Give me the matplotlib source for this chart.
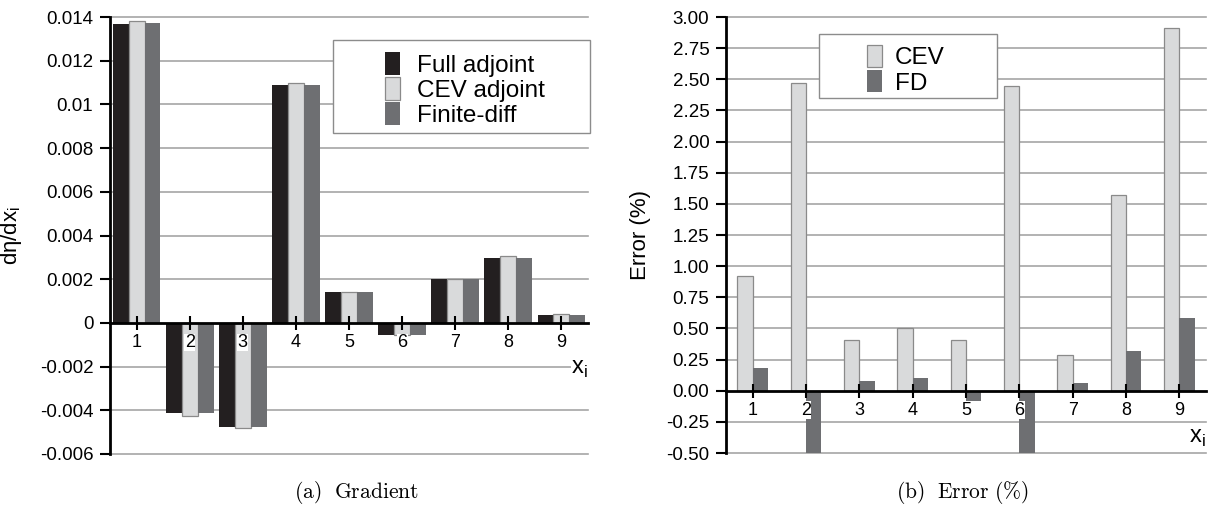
import numpy as np
import matplotlib
matplotlib.use('Agg')
import matplotlib.pyplot as plt
from matplotlib.patches import Rectangle

plt.rcParams['font.family'] = ['Liberation Sans', 'DejaVu Sans']

# values
xi = np.array([1, 2, 3, 4, 5, 6, 7, 8, 9])
full_adjoint = [0.01369, -0.00413, -0.00475, 0.01091, 0.00143, -0.00055, 0.0020, 0.00297, 0.00034]
cev_adjoint = [0.01383, -0.00425, -0.00479, 0.01099, 0.00143, -0.00055, 0.0020, 0.00304, 0.00039]
finite_diff = [0.01373, -0.00413, -0.00475, 0.01091, 0.00143, -0.00055, 0.0020, 0.00297, 0.00034]

err_cev = [0.92, 2.47, 0.41, 0.50, 0.41, 2.45, 0.29, 1.57, 2.91]
err_fd = [0.18, -0.50, 0.08, 0.10, -0.08, -0.50, 0.06, 0.32, 0.58]

grad_ticks = [0.014, 0.012, 0.01, 0.008, 0.006, 0.004, 0.002, 0, -0.002, -0.004, -0.006]
err_ticks = [3.0, 2.75, 2.5, 2.25, 2.0, 1.75, 1.5, 1.25, 1.0, 0.75, 0.5, 0.25, 0.0, -0.25, -0.5]

BLACK = '#231f20'
LIGHT = '#d9dadb'
DARK = '#6e6f72'
EDGE = '#8a8a8a'

W, H = 1209, 505
fig = plt.figure(figsize=(W / 100, H / 100), dpi=100)


def px(x0, y0, x1, y1):
    # figure pixel box -> figure fraction rect
    return [x0 / W, 1 - y1 / H, (x1 - x0) / W, (y1 - y0) / H]


def style(ax, ticks, labels):
    for s in ['top', 'right']:
        ax.spines[s].set_visible(False)
    ax.spines['left'].set_linewidth(2)
    ax.spines['bottom'].set_position(('data', 0))
    ax.spines['bottom'].set_linewidth(2)
    ax.set_axisbelow(False)
    ax.set_yticks(ticks)
    ax.set_yticklabels(labels)
    ax.set_xticks(xi)
    ax.set_xticklabels([str(v) for v in xi])
    ax.tick_params(axis='y', direction='out', length=7, width=1.5, pad=5, labelsize=13.5)
    ax.tick_params(axis='x', direction='inout', length=10, width=1.5, pad=3, labelsize=13)
    for t in ticks:
        if t != 0:
            ax.axhline(t, color='#a6a6a6', lw=1.2, zorder=0.5, clip_on=False)
    for lbl in ax.get_xticklabels():
        lbl.set_bbox(dict(facecolor='white', edgecolor='none', pad=0.3))
    ax.set_xlim(0.5, 9.5)
    ax.set_ylim(ticks[-1], ticks[0])


def legend_box(ax, box):
    x0, y0, x1, y1 = box
    r = Rectangle((x0 / W, 1 - y1 / H), (x1 - x0) / W, (y1 - y0) / H,
                  transform=fig.transFigure, facecolor='white', edgecolor='#8c8c8c',
                  lw=1, zorder=3)
    ax.add_artist(r)
    r.set_clip_on(False)


# (a) gradient
ax1 = fig.add_axes(px(110, 17, 588, 454))
bw = 0.30
ax1.bar(xi - bw, full_adjoint, bw, color=BLACK, label='Full adjoint')
ax1.bar(xi, cev_adjoint, bw, color=LIGHT, edgecolor=EDGE, lw=0.9, label='CEV adjoint')
ax1.bar(xi + bw, finite_diff, bw, color=DARK, label='Finite-diff')
style(ax1, grad_ticks, [f'{v:g}' for v in grad_ticks])
ax1.set_ylabel('dη/dx$_\\mathregular{i}$', fontsize=16)
ax1.yaxis.set_label_coords((24 - 110) / 478, 0.5)
ax1.text(1.0, (454 - 369) / 437, 'x$_\\mathregular{i}$', transform=ax1.transAxes,
         ha='right', va='center', fontsize=17,
         bbox=dict(facecolor='white', edgecolor='none', pad=0.5), zorder=4)
legend_box(ax1, (333, 40, 590, 133))
ax1.legend(loc='upper left', bbox_to_anchor=(385 / W, 1 - 52 / H),
           bbox_transform=fig.transFigure, frameon=False, borderpad=0,
           borderaxespad=0, handlelength=0.62, handleheight=1.07,
           labelspacing=0.02, handletextpad=0.7, fontsize=17.5)

# (b) error
ax2 = fig.add_axes(px(726, 17, 1206, 453))
bw2 = 0.29
ax2.bar(xi - bw2 / 2, err_cev, bw2, color=LIGHT, edgecolor=EDGE, lw=0.9, label='CEV')
ax2.bar(xi + bw2 / 2, err_fd, bw2, color=DARK, label='FD')
style(ax2, err_ticks, [f'{v:.2f}' for v in err_ticks])
ax2.set_ylabel('Error (%)', fontsize=16)
ax2.yaxis.set_label_coords((651 - 726) / 480, 0.5)
ax2.text(1.0, (453 - 438) / 436, 'x$_\\mathregular{i}$', transform=ax2.transAxes,
         ha='right', va='center', fontsize=17, zorder=4)
legend_box(ax2, (819, 34, 997, 98))
ax2.legend(loc='upper left', bbox_to_anchor=(867 / W, 1 - 45 / H),
           bbox_transform=fig.transFigure, frameon=False, borderpad=0,
           borderaxespad=0, handlelength=0.62, handleheight=1.0,
           labelspacing=0.05, handletextpad=0.53, fontsize=17.5)

# captions
fig.text(356 / W, 1 - 492 / H, r'$\mathrm{(a)\ \ Gradient}$', math_fontfamily='cm',
         ha='center', va='center', fontsize=15.5)
fig.text(962 / W, 1 - 492 / H, r'$\mathrm{(b)\ \ Error\ (\%)}$', math_fontfamily='cm',
         ha='center', va='center', fontsize=15.5)

fig.savefig('out.png', dpi=100, facecolor='white')
